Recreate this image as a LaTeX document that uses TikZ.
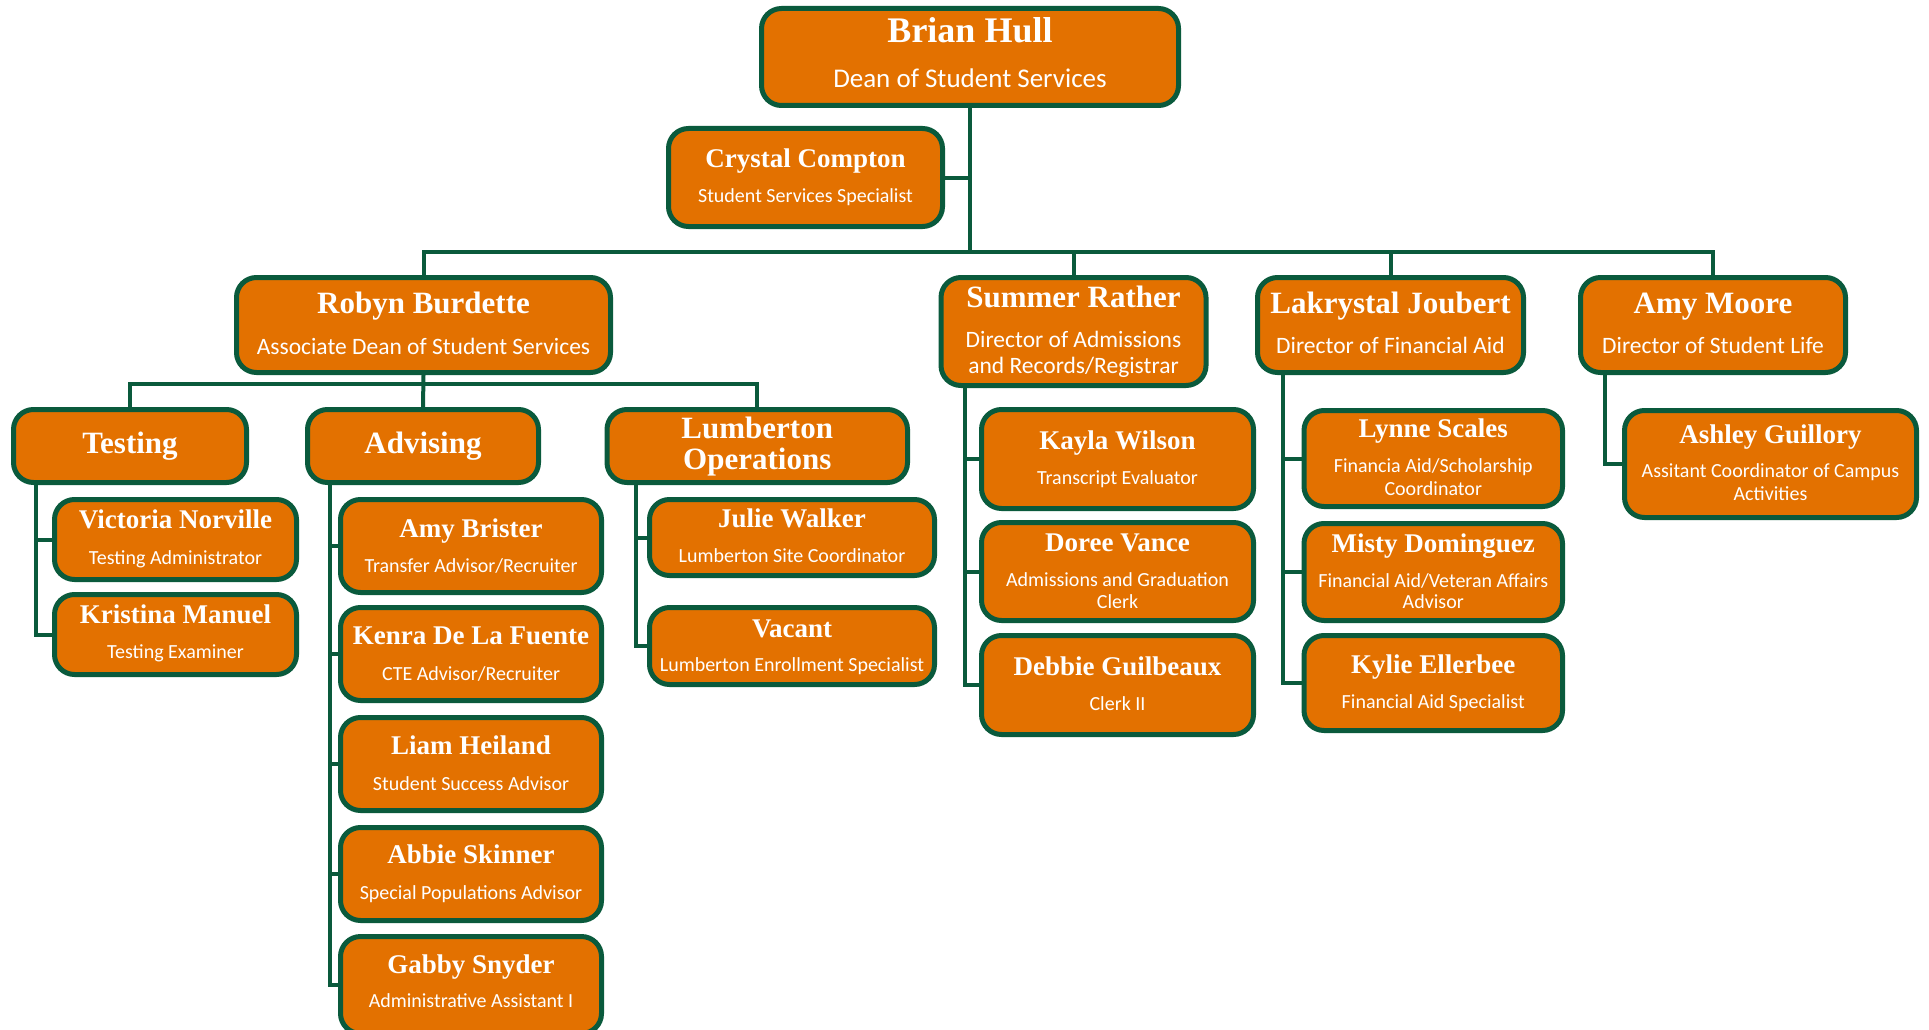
\documentclass[tikz,border=0pt]{standalone}
\usepackage{fontspec}
\setmainfont{Liberation Serif}
\newfontfamily\namefont{Liberation Serif}
\newfontfamily\subfont{Carlito}
\definecolor{orfill}{RGB}{227,113,0}
\definecolor{dkgreen}{RGB}{10,90,60}
\newcommand\obox[5]{\node[obox, minimum width={#4-#2-5}, minimum height={#5-#3-5}] (#1) at ({(#2+#4)/2},{(#3+#5)/2}) {};}
\newcommand\txt[5]{\node[#3] (#1) at (#2.center |- 0,#4) {#5};}
\tikzset{
  obox/.style={draw=dkgreen, fill=orfill, line width=5pt, rounded corners=20pt, inner sep=0pt},
  conn/.style={draw=dkgreen, line width=4pt},
  tbase/.style={anchor=base, inner sep=0pt, text=white},
  nmA/.style={tbase, font=\namefont\bfseries\fontsize{36}{36}\selectfont},
  nmB/.style={tbase, font=\namefont\bfseries\fontsize{31}{31}\selectfont},
  nmC/.style={tbase, font=\namefont\bfseries\fontsize{27}{27}\selectfont},
  sbA/.style={tbase, font=\subfont\fontsize{27}{27}\selectfont},
  sbB/.style={tbase, font=\subfont\fontsize{23.5}{23.5}\selectfont},
  sbC/.style={tbase, font=\subfont\fontsize{20}{20}\selectfont},
}
\begin{document}
\begin{tikzpicture}[x=1pt,y=-1pt]
\fill[white] (0,0) rectangle (1929,1030);
\useasboundingbox (0,0) rectangle (1929,1030);
% boxes
\obox{brian}{759}{6}{1181}{108}
\obox{crystal}{666}{126}{945}{229}
\obox{robyn}{234}{275}{613}{375}
\obox{summer}{938.5}{275}{1208.5}{388}
\obox{lakrystal}{1255}{275}{1526}{375}
\obox{amoore}{1578}{275}{1848}{375}
\obox{testing}{11}{407}{249}{485}
\obox{advising}{305}{407}{541}{485}
\obox{lumber}{604.5}{407}{910}{485}
\obox{victoria}{52}{497}{299}{582}
\obox{kristina}{52}{592}{299}{677}
\obox{amyb}{338}{497}{604}{595}
\obox{kenra}{338}{605}{604}{703}
\obox{liam}{338}{715}{604}{813}
\obox{abbie}{338}{825}{604}{923}
\obox{gabby}{338}{934}{604}{1036}
\obox{julie}{647}{497}{937}{578}
\obox{vacant}{647}{605}{937}{687}
\obox{kayla}{979}{407}{1256}{511}
\obox{doree}{979}{520}{1256}{623}
\obox{debbie}{979}{633}{1256}{737}
\obox{lynne}{1301.5}{408}{1565}{509}
\obox{misty}{1301.5}{521}{1565}{623}
\obox{kylie}{1301.5}{633}{1565}{733}
\obox{ashley}{1622}{408}{1919}{520}
% texts
\txt{brian-n}{brian}{nmA}{43}{Brian Hull}
\txt{brian-t}{brian}{sbA}{88}{Dean of Student Services}
\txt{crystal-n}{crystal}{nmC}{167}{Crystal Compton}
\txt{crystal-t}{crystal}{sbC}{202}{Student Services Specialist}
\txt{robyn-n}{robyn}{nmB}{313}{Robyn Burdette}
\txt{robyn-t}{robyn}{sbB}{354}{Associate Dean of Student Services}
\txt{summer-n}{summer}{nmB}{307}{Summer Rather}
\txt{summer-t1}{summer}{sbB}{347}{Director of Admissions}
\txt{summer-t2}{summer}{sbB}{373}{and Records/Registrar}
\txt{lakrystal-n}{lakrystal}{nmB}{313}{Lakrystal Joubert}
\txt{lakrystal-t}{lakrystal}{sbB}{353}{Director of Financial Aid}
\txt{amoore-n}{amoore}{nmB}{313}{Amy Moore}
\txt{amoore-t}{amoore}{sbB}{353}{Director of Student Life}
\txt{testing-n}{testing}{nmB}{453}{Testing}
\txt{advising-n}{advising}{nmB}{453}{Advising}
\txt{lumber-n1}{lumber}{nmB}{438}{Lumberton}
\txt{lumber-n2}{lumber}{nmB}{469}{Operations}
\txt{victoria-n}{victoria}{nmC}{528}{Victoria Norville}
\txt{victoria-t}{victoria}{sbC}{564}{Testing Administrator}
\txt{kristina-n}{kristina}{nmC}{623}{Kristina Manuel}
\txt{kristina-t}{kristina}{sbC}{658}{Testing Examiner}
\txt{amyb-n}{amyb}{nmC}{537}{Amy Brister}
\txt{amyb-t}{amyb}{sbC}{572}{Transfer Advisor/Recruiter}
\txt{kenra-n}{kenra}{nmC}{644}{Kenra De La Fuente}
\txt{kenra-t}{kenra}{sbC}{680}{CTE Advisor/Recruiter}
\txt{liam-n}{liam}{nmC}{754}{Liam Heiland}
\txt{liam-t}{liam}{sbC}{790}{Student Success Advisor}
\txt{abbie-n}{abbie}{nmC}{863}{Abbie Skinner}
\txt{abbie-t}{abbie}{sbC}{899}{Special Populations Advisor}
\txt{gabby-n}{gabby}{nmC}{973}{Gabby Snyder}
\txt{gabby-t}{gabby}{sbC}{1007}{Administrative Assistant I}
\txt{julie-n}{julie}{nmC}{527}{Julie Walker}
\txt{julie-t}{julie}{sbC}{562}{Lumberton Site Coordinator}
\txt{vacant-n}{vacant}{nmC}{637}{Vacant}
\txt{vacant-t}{vacant}{sbC}{671}{Lumberton Enrollment Specialist}
\txt{kayla-n}{kayla}{nmC}{449}{Kayla Wilson}
\txt{kayla-t}{kayla}{sbC}{484}{Transcript Evaluator}
\txt{doree-n}{doree}{nmC}{551}{Doree Vance}
\txt{doree-t1}{doree}{sbC}{586}{Admissions and Graduation}
\txt{doree-t2}{doree}{sbC}{608}{Clerk}
\txt{debbie-n}{debbie}{nmC}{675}{Debbie Guilbeaux}
\txt{debbie-t}{debbie}{sbC}{710}{Clerk II}
\txt{lynne-n}{lynne}{nmC}{437}{Lynne Scales}
\txt{lynne-t1}{lynne}{sbC}{472}{Financia Aid/Scholarship}
\txt{lynne-t2}{lynne}{sbC}{495}{Coordinator}
\txt{misty-n}{misty}{nmC}{552}{Misty Dominguez}
\txt{misty-t1}{misty}{sbC}{587}{Financial Aid/Veteran Affairs}
\txt{misty-t2}{misty}{sbC}{608}{Advisor}
\txt{kylie-n}{kylie}{nmC}{673}{Kylie Ellerbee}
\txt{kylie-t}{kylie}{sbC}{708}{Financial Aid Specialist}
\txt{ashley-n}{ashley}{nmC}{443}{Ashley Guillory}
\txt{ashley-t1}{ashley}{sbC}{477}{Assitant Coordinator of Campus}
\txt{ashley-t2}{ashley}{sbC}{500}{Activities}
% connector helper coordinates
\coordinate (bus) at (0,252);
\coordinate (bus2) at (0,384);
\coordinate (tx) at (36,0);
\coordinate (ax) at (330,0);
\coordinate (lx) at (636,0);
\coordinate (sx) at (965,0);
\coordinate (kx) at (1283,0);
\coordinate (mx) at (1605,0);
% connectors
\draw[conn] (brian.south) -- (brian.south |- bus);
\draw[conn] (crystal.east) -- (crystal.east -| brian.south);
\draw[conn] (robyn.north) -- (robyn.north |- bus) -| (amoore.north);
\draw[conn] (summer.north) -- (summer.north |- bus);
\draw[conn] (lakrystal.north) -- (lakrystal.north |- bus);
\draw[conn] (robyn.south) -- (advising.north);
\draw[conn] (testing.north) -- (testing.north |- bus2) -| (lumber.north);
\draw[conn] (testing.south -| tx) |- (kristina.west);
\draw[conn] (victoria.west) -- (victoria.west -| tx);
\draw[conn] (advising.south -| ax) |- (gabby.west);
\draw[conn] (amyb.west) -- (amyb.west -| ax);
\draw[conn] (kenra.west) -- (kenra.west -| ax);
\draw[conn] (liam.west) -- (liam.west -| ax);
\draw[conn] (abbie.west) -- (abbie.west -| ax);
\draw[conn] (lumber.south -| lx) |- (vacant.west);
\draw[conn] (julie.west) -- (julie.west -| lx);
\draw[conn] (summer.south -| sx) |- (debbie.west);
\draw[conn] (kayla.west) -- (kayla.west -| sx);
\draw[conn] (doree.west) -- (doree.west -| sx);
\draw[conn] (lakrystal.south -| kx) |- (kylie.west);
\draw[conn] (lynne.west) -- (lynne.west -| kx);
\draw[conn] (misty.west) -- (misty.west -| kx);
\draw[conn] (amoore.south -| mx) |- (ashley.west);
\end{tikzpicture}
\end{document}
